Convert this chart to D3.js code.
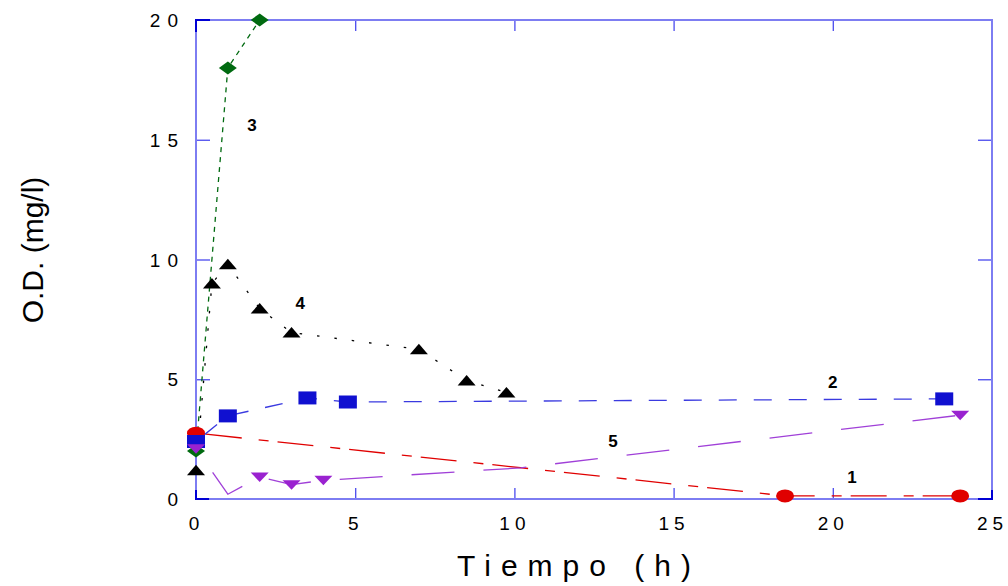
<!DOCTYPE html>
<html>
<head>
<meta charset="utf-8">
<script src="https://cdn.jsdelivr.net/npm/d3@7"></script>
<style>
  html, body { margin: 0; padding: 0; background: #fff; }
  svg { display: block; font-family: "Liberation Sans", Arial, sans-serif; }
</style>
</head>
<body>
<svg id="chart" width="1008" height="586"></svg>
<script>
// ---- data ----
const xTicks = [0, 5, 10, 15, 20, 25];
const yTicks = [0, 5, 10, 15, 20];
const xTitle = "Tiempo (h)";
const yTitle = "O.D. (mg/l)";

const s1Time = [0, 18.5, 24.0];
const s1Val  = [2.75, 0.13, 0.13];

const s2Time = [0, 1.0, 3.5, 4.77, 23.5];
const s2Val  = [2.4, 3.47, 4.22, 4.05, 4.18];

const s3Time = [0, 1.0, 2.0];
const s3Val  = [2.0, 18.0, 20.0];

const s4Time = [0, 0.5, 1.0, 2.0, 3.0, 7.0, 8.5, 9.75];
const s4Val  = [1.2, 9.0, 9.8, 7.95, 6.95, 6.25, 4.95, 4.45];

const s5Time = [0, 1.0, 2.0, 3.0, 4.0, 10.2, 24.0];
const s5Val  = [2.1, 0.2, 0.92, 0.6, 0.78, 1.3, 3.5];
const s5Marked = [true, false, true, true, true, false, true];

const labelText = ["3", "4", "2", "5", "1"];
const labelTime = [1.76, 3.27, 20.0, 13.1, 20.6];
const labelVal  = [15.6, 8.2, 4.9, 2.4, 0.9];

// ---- layout ----
const W = 1008, H = 586;
const margin = { left: 196, top: 20, right: 16, bottom: 87 };
const x = d3.scaleLinear().domain([0, 25]).range([margin.left, W - margin.right]);
const y = d3.scaleLinear().domain([0, 20]).range([H - margin.bottom, margin.top]);

const svg = d3.select("#chart");

const frameLight = "#7d7df2";
const frameDark = "#0000d4";
const tickColor = "#4a4aee";

// axes (inward ticks)
const gx = svg.append("g").attr("transform", `translate(0,${y(0)})`)
  .call(d3.axisBottom(x).tickValues(xTicks).tickSizeInner(-11).tickSizeOuter(0).tickPadding(18).tickFormat(d3.format("d")));
const gxTop = svg.append("g").attr("transform", `translate(0,${y(20)})`)
  .call(d3.axisTop(x).tickValues(xTicks.slice(1, -1)).tickSizeInner(-11).tickSizeOuter(0).tickFormat(""));
const gy = svg.append("g").attr("transform", `translate(${x(0)},0)`)
  .call(d3.axisLeft(y).tickValues(yTicks).tickSizeInner(-14).tickSizeOuter(0).tickPadding(18).tickFormat(d3.format("d")));
const gyRight = svg.append("g").attr("transform", `translate(${x(25)},0)`)
  .call(d3.axisRight(y).tickValues(yTicks.slice(1, -1)).tickSizeInner(-14).tickSizeOuter(0).tickFormat(""));

[gx, gxTop, gy, gyRight].forEach(g => {
  g.select(".domain").remove();
  g.selectAll(".tick line").attr("stroke", tickColor).attr("stroke-width", 1.3);
  g.selectAll("text").attr("fill", "#000").attr("font-size", 19)
    .attr("font-family", "'Liberation Sans', Arial, sans-serif");
});
gx.selectAll(".tick").filter(d => d === 0 || d === 25).select("line").remove();
gy.selectAll(".tick").filter(d => d === 0 || d === 20).select("line").remove();
gx.selectAll("text").attr("letter-spacing", 5);
gy.selectAll("text").attr("letter-spacing", 7).attr("x", -18 + 7).attr("dy", "0.35em");

// frame
const fx0 = x(0), fx1 = x(25), fy0 = y(0), fy1 = y(20);
svg.append("rect").attr("x", fx0).attr("y", fy1).attr("width", fx1 - fx0).attr("height", fy0 - fy1)
  .attr("fill", "none").attr("stroke", frameLight).attr("stroke-width", 2);
const corners = [
  [[fx0, fy1 + 12], [fx0, fy1], [fx0 + 14, fy1]],
  [[fx0, fy0 - 9], [fx0, fy0], [fx0 + 13, fy0]],
  [[fx1 - 14, fy0], [fx1, fy0], [fx1, fy0 - 9]]
];
svg.selectAll("path.corner").data(corners).join("path").attr("class", "corner")
  .attr("d", d3.line()).attr("fill", "none").attr("stroke", frameDark).attr("stroke-width", 2);

// series
const mk = (t, v, m) => t.map((d, i) => ({ t: d, v: v[i], m: m ? m[i] : true }));
const series = [
  { data: mk(s3Time, s3Val), color: "#006a10", dash: "5,5", offset: 0, marker: "diamond" },
  { data: mk(s4Time, s4Val), color: "#000000", dash: "2.5,15", offset: 0, marker: "triUp" },
  { data: mk(s1Time, s1Val), color: "#e00000", dash: "36,17,10,9", offset: 62, marker: "ellipse" },
  { data: mk(s2Time, s2Val), color: "#1010d0", dash: "18,17", offset: 26, marker: "square", lineColor: "#3a3ae0" },
  { data: mk(s5Time, s5Val, s5Marked), color: "#9a22d0", dash: "43,29", offset: 43, marker: "triDown", lineColor: "#a040d8" }
];

const line = d3.line().x(d => x(d.t)).y(d => y(d.v));
const shapes = {
  diamond: "M0,-6.5L9,0L0,6.5L-9,0Z",
  triUp: "M-9,5L0,-5.5L9,5Z",
  triDown: "M-9,-4.5L9,-4.5L0,5Z",
  square: "M-9,-6.5H9V6.5H-9Z",
  ellipse: "M-9,0A9,6.5 0 1,0 9,0A9,6.5 0 1,0 -9,0Z"
};

series.forEach(s => {
  svg.append("path").datum(s.data).attr("d", line)
    .attr("fill", "none").attr("stroke", s.lineColor || s.color)
    .attr("stroke-width", 1.3).attr("stroke-dasharray", s.dash)
    .attr("stroke-dashoffset", s.offset);
});
series.forEach(s => {
  svg.append("g").selectAll("path").data(s.data.filter(d => d.m)).join("path")
    .attr("transform", d => `translate(${x(d.t)},${y(d.v)})`)
    .attr("d", shapes[s.marker]).attr("fill", s.color);
});

// series labels
svg.append("g").selectAll("text").data(labelText).join("text")
  .attr("x", (d, i) => x(labelTime[i])).attr("y", (d, i) => y(labelVal[i]))
  .attr("text-anchor", "middle").attr("dy", "0.35em")
  .attr("font-size", 17).attr("font-weight", "bold").text(d => d);

// axis titles
svg.append("text").attr("x", 579).attr("y", 576)
  .attr("text-anchor", "middle").attr("font-size", 30).attr("letter-spacing", 10)
  .text(xTitle);
svg.append("text").attr("transform", "translate(43,250) rotate(-90)")
  .attr("text-anchor", "middle").attr("font-size", 30)
  .text(yTitle);
</script>
</body>
</html>
